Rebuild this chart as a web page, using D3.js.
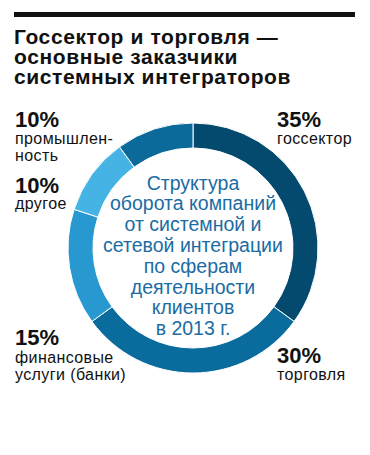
<!DOCTYPE html>
<html>
<head>
<meta charset="utf-8">
<script src="https://cdn.jsdelivr.net/npm/d3@7"></script>
<style>
  body { margin: 0; background: #fff; }
  svg { display: block; }
</style>
</head>
<body>
<div id="chart"></div>
<script>
// данные
var categories = ["госсектор", "торговля", "финансовые услуги (банки)", "другое", "промышленность"];
var shares = [35, 30, 15, 10, 10];
var colors = ["#044a6f", "#0a6c9d", "#2799d0", "#45b3e3", "#0b6a99"];
// подписи сегментов (как в оригинале, с переносами)
var labelLines = [["госсектор"], ["торговля"], ["финансовые", "услуги (банки)"], ["другое"], ["промышлен-", "ность"]];
var titleLines = ["Госсектор и торговля —", "основные заказчики", "системных интеграторов"];
var centerLines = ["Структура", "оборота компаний", "от системной и", "сетевой интеграции", "по сферам", "деятельности", "клиентов", "в 2013 г."];

var width = 370, height = 455;
var cx = 193, cy = 248;
var outerR = 125, innerR = 100;

// где стоят подписи: x, y базовой линии процента, шаг строк
var labelPos = [
    {x: 277, y: 127, dy: 17},
    {x: 277, y: 363, dy: 17},
    {x: 15, y: 345, dy: 17.5},
    {x: 15, y: 193, dy: 16},
    {x: 15, y: 127, dy: 16.5}
];

var svg = d3.select("#chart")
    .append("svg")
    .attr("width", width)
    .attr("height", height);

// черная полоса сверху
svg.append("rect")
    .attr("x", 14)
    .attr("y", 12)
    .attr("width", 341)
    .attr("height", 5)
    .style("fill", "#111");

var title = svg.append("text")
    .attr("class", "title")
    .style("font-family", "'Liberation Sans', Arial, sans-serif")
    .style("font-weight", "bold")
    .style("font-size", "21px")
    .style("letter-spacing", "0.6px")
    .style("fill", "#111");

title.selectAll("tspan")
    .data(titleLines)
    .enter()
    .append("tspan")
    .attr("x", 14)
    .attr("y", function(d, i) { return 43.5 + i * 20; })
    .text(function(d) { return d; });

var pie = d3.pie()
    .sort(null)
    .value(function(d) { return d; });

var arc = d3.arc()
    .innerRadius(innerR)
    .outerRadius(outerR);

var ring = svg.append("g")
    .attr("class", "ring")
    .attr("transform", "translate(" + cx + "," + cy + ")");

ring.selectAll("path")
    .data(pie(shares))
    .enter()
    .append("path")
    .attr("d", arc)
    .style("fill", function(d, i) { return colors[i]; })
    .style("stroke", "#fff")
    .style("stroke-width", 1);

var center = svg.append("text")
    .attr("class", "center-text")
    .attr("text-anchor", "middle")
    .style("font-family", "'Liberation Sans', Arial, sans-serif")
    .style("font-size", "19.5px")
    .style("fill", "#1b6ca3");

center.selectAll("tspan")
    .data(centerLines)
    .enter()
    .append("tspan")
    .attr("x", cx)
    .attr("y", function(d, i) { return 189.5 + i * 20.8; })
    .text(function(d) { return d; });

var labels = svg.append("g").attr("class", "labels");

shares.forEach(function(v, i) {
    var g = labels.append("g");
    g.append("text")
        .attr("x", labelPos[i].x)
        .attr("y", labelPos[i].y)
        .style("font-family", "'Liberation Sans', Arial, sans-serif")
        .style("font-weight", "bold")
        .style("font-size", "22px")
        .style("fill", "#111")
        .text(v + "%");
    g.selectAll(".cat")
        .data(labelLines[i])
        .enter()
        .append("text")
        .attr("class", "cat")
        .attr("x", labelPos[i].x)
        .attr("y", function(d, j) { return labelPos[i].y + labelPos[i].dy + j * 17; })
        .style("font-family", "'Liberation Sans', Arial, sans-serif")
        .style("font-size", "16px")
        .style("letter-spacing", "0.4px")
        .style("fill", "#111")
        .text(function(d) { return d; });
});
</script>
</body>
</html>
